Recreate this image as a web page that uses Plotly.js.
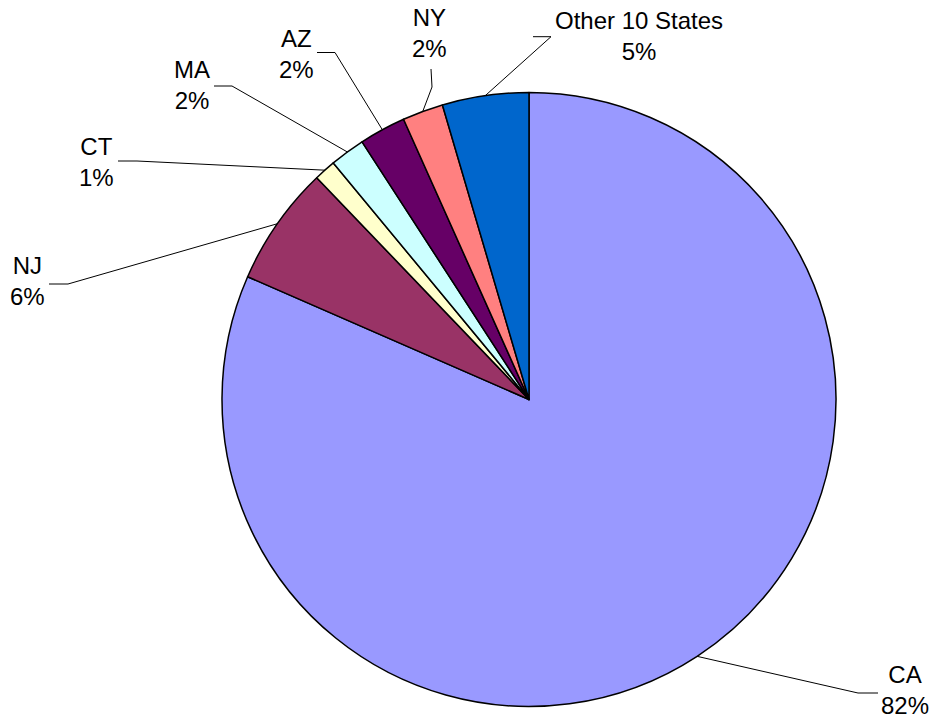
<!DOCTYPE html>
<html>
<head>
<meta charset="utf-8">
<script src="https://cdn.plot.ly/plotly-3.0.1.min.js"></script>
<style>html,body{margin:0;padding:0;background:#fff;}#chart{width:934px;height:721px;}</style>
</head>
<body>
<div id="chart"></div>
<script>
// ---- data ----
const labels = ['CA', 'NJ', 'CT', 'MA', 'AZ', 'NY', 'Other 10 States'];
const values = [81.55, 6.3, 1.15, 1.85, 2.45, 2.15, 4.55];
const colors = ['#9999FF', '#993366', '#FFFFCC', '#CCFFFF', '#660066', '#FF8080', '#0066CC'];

// ---- label placement (page pixels): label centre, then leader elbow points (label side first) ----
const labelCentres = [[905, 690], [27.5, 280.5], [96.7, 161.7], [192, 85], [296, 54], [429, 32.5], [639, 36.5]];
const leaderElbows = [
  [[878, 693], [858, 693]],
  [[49, 284], [68, 284]],
  [[118, 161], [137, 161]],
  [[214, 86], [232, 86]],
  [[317, 52.5], [335, 52.5]],
  [[431, 69], [432, 87]],
  [[533, 36.7], [551, 36.7]]
];

const W = 934, H = 721;
const M = {l: 222, r: 98, t: 92, b: 14};
const plotW = W - M.l - M.r, plotH = H - M.t - M.b;
const R = Math.min(plotW, plotH) / 2;
const cx = M.l + plotW / 2, cy = M.t + plotH / 2;
const px = x => (x - M.l) / plotW;
const py = y => 1 - (y - M.t) / plotH;

const total = values.reduce((a, b) => a + b, 0);
let cum = 0;
const shapes = [], annotations = [];
values.forEach((v, i) => {
  const mid = (cum + v / 2) / total * 2 * Math.PI; // clockwise from 12 o'clock
  cum += v;
  const ax = cx + R * Math.sin(mid), ay = cy - R * Math.cos(mid);
  const pts = leaderElbows[i].concat([[ax, ay]]);
  const d = pts.map((p, k) => (k ? 'L' : 'M') + px(p[0]) + ',' + py(p[1])).join(' ');
  shapes.push({type: 'path', xref: 'paper', yref: 'paper', path: d, line: {color: '#000', width: 1}});
  annotations.push({
    xref: 'paper', yref: 'paper', x: px(labelCentres[i][0]), y: py(labelCentres[i][1]),
    xanchor: 'center', yanchor: 'middle', showarrow: false,
    text: labels[i] + '<br>' + Math.round(v / total * 100) + '%',
    font: {family: 'Liberation Sans, Arial, sans-serif', size: 24, color: '#000'}
  });
});

const trace = {
  type: 'pie', labels: labels, values: values, sort: false,
  direction: 'clockwise', rotation: 0,
  marker: {colors: colors, line: {color: '#000', width: 1.5}},
  textinfo: 'none', hoverinfo: 'none'
};

Plotly.newPlot('chart', [trace], {
  width: W, height: H, margin: M, showlegend: false,
  paper_bgcolor: '#fff', plot_bgcolor: '#fff',
  font: {family: 'Liberation Sans, Arial, sans-serif'},
  shapes: shapes, annotations: annotations
}, {displayModeBar: false, staticPlot: true});
</script>
</body>
</html>
